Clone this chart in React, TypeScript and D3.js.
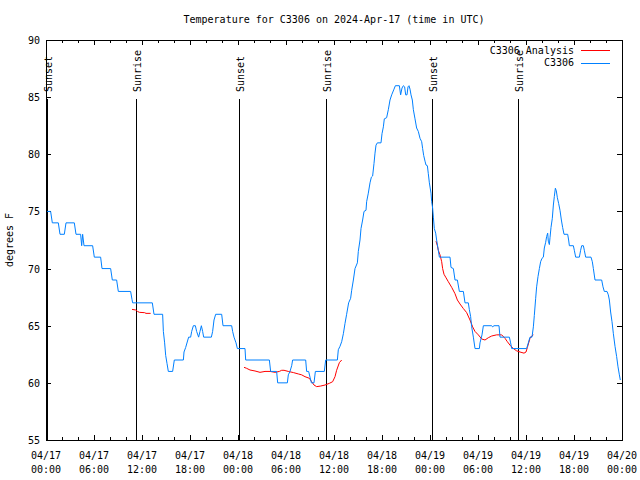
import React from "react";
import * as d3 from "d3";

// ---------- data ----------
const TITLE = "Temperature for C3306 on 2024-Apr-17 (time in UTC)";
const Y_LABEL = "degrees F";
const START_ISO = "2024-04-17T00:00:00Z";
const END_ISO = "2024-04-20T00:00:00Z";
const yTicks = [55, 60, 65, 70, 75, 80, 85, 90];
const seriesNames = ["C3306 Analysis", "C3306"];
const seriesColors = ["#ff0000", "#0080ff"];

// hours after 2024-04-17 00:00 UTC
const sunsetHours = [0.08, 24.16, 48.2];
const sunriseHours = [11.2, 35.04, 59.04];

// [hours since start, temperature F]
const stationSeries: [number, number][] = [
  [0.08, 75], [0.58, 75], [0.79, 74], [1.54, 74], [1.75, 73], [2.29, 73], [2.5, 74], [3.54, 74],
  [3.75, 73], [4.33, 73], [4.46, 72], [4.58, 73], [4.75, 72], [5.83, 72], [6.04, 71], [6.83, 71],
  [7.0, 70], [8.08, 70], [8.29, 69], [8.83, 69], [9.04, 68], [10.58, 68], [10.75, 67.3], [10.83, 67],
  [13.29, 67], [13.5, 66], [14.58, 66], [14.67, 64.5], [14.83, 63.5], [14.96, 62.4], [15.125, 61.7],
  [15.29, 61], [15.83, 61], [16.04, 62], [17.17, 62], [17.25, 62.7], [17.46, 63.1], [17.83, 64],
  [18.08, 64], [18.21, 64.5], [18.42, 65], [18.67, 65], [18.83, 64.5], [19.08, 64], [19.25, 64.5],
  [19.42, 65], [19.58, 64.5], [19.71, 64], [20.67, 64], [20.83, 64.5], [21.0, 65.5], [21.21, 66],
  [21.96, 66], [22.125, 65], [23.21, 65], [23.33, 64.5], [23.5, 64], [23.75, 63.5], [23.92, 63],
  [24.875, 63], [24.96, 62], [27.92, 62], [28.08, 61], [28.83, 61], [28.96, 60], [30.17, 60],
  [30.29, 60.7], [30.5, 61], [30.71, 61.5], [30.83, 62], [32.46, 62], [32.58, 61], [32.83, 61],
  [33.0, 60.5], [33.17, 60], [33.5, 60], [33.67, 61], [34.79, 61], [34.96, 62], [36.42, 62],
  [36.54, 62.9], [36.75, 63.2], [36.96, 63.6], [37.17, 64.3], [37.375, 65.2], [37.58, 66],
  [37.83, 67], [38.08, 67.4], [38.21, 68.1], [38.42, 69], [38.625, 70], [38.92, 70.5], [39.04, 71.5],
  [39.25, 72.5], [39.375, 73.5], [39.58, 74.25], [39.75, 75], [40.0, 75.1], [40.08, 75.85],
  [40.29, 76.6], [40.5, 77.5], [40.67, 78], [40.83, 78.1], [41.0, 79.2], [41.125, 80.1],
  [41.25, 80.8], [41.42, 81], [41.875, 81], [42.0, 81.8], [42.17, 82.4], [42.29, 83.1],
  [42.58, 83.2], [42.79, 83.9], [43.0, 84.75], [43.21, 85.2], [43.5, 85.7], [43.67, 86],
  [44.17, 86], [44.33, 85.2], [44.5, 85.8], [44.67, 86], [44.83, 85.9], [44.96, 85.2],
  [45.125, 85.2], [45.25, 85.9], [45.375, 86], [45.5, 85.7], [45.625, 85.2], [45.79, 84.75],
  [45.92, 83.9], [46.125, 83.1], [46.33, 82.3], [46.54, 82], [46.75, 81.4], [46.96, 81.1],
  [47.08, 80.5], [47.21, 79.9], [47.375, 79.4], [47.5, 79.06], [47.67, 79], [47.79, 78.3],
  [47.92, 77.5], [48.125, 76.6], [48.21, 75.85], [48.33, 75.3], [48.42, 74.5], [48.54, 73.5],
  [48.71, 73.1], [48.83, 72.5], [49.04, 71.6], [49.17, 71], [50.5, 71], [50.625, 70.1],
  [50.92, 70], [51.125, 69], [51.42, 69], [51.67, 68], [52.17, 68], [52.375, 67], [52.79, 67],
  [52.92, 66.4], [53.08, 65.8], [53.21, 64.9], [53.42, 64], [53.625, 63], [54.17, 63],
  [54.25, 63.5], [54.5, 64.2], [54.67, 65], [55.71, 65], [55.83, 64.9], [56.0, 65], [56.625, 65],
  [56.75, 64], [57.92, 64], [58.08, 63.5], [58.21, 63], [60.08, 63], [60.29, 63.5], [60.5, 64],
  [60.75, 64], [60.92, 64.9], [61.04, 65.9], [61.21, 67.4], [61.33, 68.4], [61.5, 69.3],
  [61.67, 70], [61.83, 70.6], [62.0, 70.9], [62.17, 71], [62.29, 71.8], [62.46, 72.3],
  [62.58, 72.8], [62.71, 73.1], [62.79, 72.4], [62.92, 72.1], [63.0, 72.7], [63.125, 73.6],
  [63.29, 74.4], [63.42, 75.56], [63.54, 76.3], [63.67, 77.03], [63.79, 76.8], [63.92, 76.2],
  [64.08, 75.7], [64.25, 75.1], [64.42, 74.25], [64.58, 73.6], [64.75, 73], [65.21, 73],
  [65.33, 72.5], [65.42, 72], [65.92, 72], [66.04, 71.6], [66.21, 71], [66.67, 71], [66.83, 71.6],
  [66.96, 72], [67.17, 72], [67.29, 71.6], [67.46, 71], [68.125, 71], [68.29, 70.6], [68.42, 70],
  [68.625, 69], [69.46, 69], [69.625, 68.4], [69.79, 68], [70.125, 68], [70.29, 67.7],
  [70.42, 67.25], [70.58, 66.2], [70.75, 65.35], [70.92, 64.3], [71.125, 63.2], [71.33, 62.3],
  [71.5, 61.4], [71.67, 60.7], [71.79, 60.25],
];

const analysisDay1: [number, number][] = [
  [10.75, 66.43], [11.21, 66.375], [11.42, 66.26], [11.67, 66.17], [12.33, 66.14], [12.5, 66.08],
  [13.08, 66.08],
];
const analysisDay2: [number, number][] = [
  [24.75, 61.36], [25.08, 61.27], [25.5, 61.125], [26.125, 61.04], [26.75, 60.92], [27.375, 61.0],
  [28.0, 61.0], [28.625, 60.92], [29.17, 61.0], [29.46, 61.1], [29.75, 61.1], [30.29, 61.0],
  [30.92, 60.9], [31.54, 60.78], [31.96, 60.7], [32.375, 60.54], [32.92, 60.4], [33.21, 60.1],
  [33.5, 59.81], [33.83, 59.67], [34.33, 59.72], [34.875, 59.81], [35.42, 59.96], [35.83, 60.1],
  [36.125, 60.54], [36.33, 61.1], [36.67, 61.77], [36.96, 62.0],
];
const analysisDay3: [number, number][] = [
  [48.75, 72.4], [48.92, 72.0], [49.04, 71.6], [49.25, 71.2], [49.46, 70.6], [49.58, 70.0],
  [49.75, 69.5], [49.96, 69.25], [50.29, 68.85], [50.71, 68.36], [51.125, 67.8], [51.42, 67.25],
  [51.75, 66.9], [52.17, 66.5], [52.58, 66.15], [53.0, 65.5], [53.33, 64.9], [53.625, 64.5],
  [54.04, 64.2], [54.46, 63.84], [54.875, 63.75], [55.29, 63.95], [55.71, 64.1], [56.33, 64.2],
  [56.96, 64.2], [57.375, 63.9], [57.67, 63.6], [58.0, 63.3], [58.42, 63.0], [58.83, 62.8],
  [59.25, 62.7], [59.75, 62.6], [60.0, 62.7], [60.17, 63.1], [60.5, 63.9], [60.71, 64.1],
  [60.92, 64.2],
];

// ---------- layout ----------
const W = 640;
const H = 480;
const M = { left: 46, right: 622, top: 40, bottom: 440 };
const FONT = "'DejaVu Sans Mono', monospace";
const FS = 10;

const start = new Date(START_ISO);
const end = new Date(END_ISO);
const toDate = (h: number) => new Date(start.getTime() + h * 3600000);

const x = d3.scaleUtc().domain([start, end]).range([M.left, M.right]);
const y = d3.scaleLinear().domain([55, 90]).range([M.bottom, M.top]);

const line = d3
  .line<[number, number]>()
  .x((d) => x(toDate(d[0])))
  .y((d) => y(d[1]));

const majorTicks = x.ticks(d3.utcHour.every(6)!);
const minorTicks = x.ticks(d3.utcHour.every(2)!);
const fmtDate = d3.utcFormat("%m/%d");
const fmtTime = d3.utcFormat("%H:%M");

const crisp = (v: number) => Math.round(v) + 0.5;

export default function App() {
  const sunLineTop = M.bottom - 0.852 * (M.bottom - M.top);
  const sunLabelY = M.bottom - 0.87 * (M.bottom - M.top);
  const sunEvents = [
    ...sunsetHours.map((h) => ({ h, label: "Sunset" })),
    ...sunriseHours.map((h) => ({ h, label: "Sunrise" })),
  ];
  return (
    <svg
      width={W}
      height={H}
      style={{ position: "absolute", left: 0, top: 0, background: "#fff" }}
      fontFamily={FONT}
      fontSize={FS}
    >
      <rect x={0} y={0} width={W} height={H} fill="#fff" />
      {/* title */}
      <text x={(M.left + M.right) / 2} y={23} textAnchor="middle" fill="#000">
        {TITLE}
      </text>
      {/* y label */}
      <text
        transform={`translate(12.5,${(M.top + M.bottom) / 2}) rotate(-90)`}
        textAnchor="middle"
        fill="#000"
      >
        {Y_LABEL}
      </text>

      {/* sunrise / sunset markers */}
      {sunEvents.map((e, i) => {
        const xv = crisp(x(toDate(e.h)));
        return (
          <g key={"sun" + i}>
            <line x1={xv} x2={xv} y1={sunLineTop} y2={M.bottom} stroke="#000" strokeWidth={1} shapeRendering="crispEdges" />
            <text
              transform={`translate(${xv + 4},${sunLabelY}) rotate(-90)`}
              textAnchor="start"
              fill="#000"
            >
              {e.label}
            </text>
          </g>
        );
      })}

      {/* y ticks */}
      {yTicks.map((t) => {
        const yv = crisp(y(t));
        return (
          <g key={"y" + t}>
            <line x1={M.left} x2={M.left + 5} y1={yv} y2={yv} stroke="#000" shapeRendering="crispEdges" />
            <line x1={M.right - 5} x2={M.right} y1={yv} y2={yv} stroke="#000" shapeRendering="crispEdges" />
            <text x={40} y={y(t) + 4} textAnchor="end" fill="#000">
              {t}
            </text>
          </g>
        );
      })}

      {/* x minor ticks */}
      {minorTicks.map((t, i) => {
        const xv = crisp(x(t));
        return (
          <g key={"mx" + i}>
            <line x1={xv} x2={xv} y1={M.bottom} y2={M.bottom - 3} stroke="#000" shapeRendering="crispEdges" />
            <line x1={xv} x2={xv} y1={M.top} y2={M.top + 3} stroke="#000" shapeRendering="crispEdges" />
          </g>
        );
      })}
      {/* x major ticks + labels */}
      {majorTicks.map((t, i) => {
        const xv = crisp(x(t));
        return (
          <g key={"x" + i}>
            <line x1={xv} x2={xv} y1={M.bottom} y2={M.bottom - 5} stroke="#000" shapeRendering="crispEdges" />
            <line x1={xv} x2={xv} y1={M.top} y2={M.top + 5} stroke="#000" shapeRendering="crispEdges" />
            <text x={x(t)} y={459} textAnchor="middle" fill="#000">
              {fmtDate(t)}
            </text>
            <text x={x(t)} y={473} textAnchor="middle" fill="#000">
              {fmtTime(t)}
            </text>
          </g>
        );
      })}

      {/* data */}
      {[analysisDay1, analysisDay2, analysisDay3].map((seg, i) => (
        <path key={"a" + i} d={line(seg) || ""} fill="none" stroke={seriesColors[0]} strokeWidth={1} />
      ))}
      <path d={line(stationSeries) || ""} fill="none" stroke={seriesColors[1]} strokeWidth={1} />

      {/* border */}
      <rect
        x={M.left + 0.5}
        y={M.top + 0.5}
        width={M.right - M.left}
        height={M.bottom - M.top}
        fill="none"
        stroke="#000"
        shapeRendering="crispEdges"
      />

      {/* legend */}
      {seriesNames.map((n, i) => {
        const ly = 50 + i * 12.5;
        return (
          <g key={"lg" + i}>
            <text x={574} y={ly + 3.7} textAnchor="end" fill="#000">
              {n}
            </text>
            <line x1={581} x2={610} y1={Math.round(ly) + 0.5} y2={Math.round(ly) + 0.5} stroke={seriesColors[i]} strokeWidth={1} shapeRendering="crispEdges" />
          </g>
        );
      })}
    </svg>
  );
}
